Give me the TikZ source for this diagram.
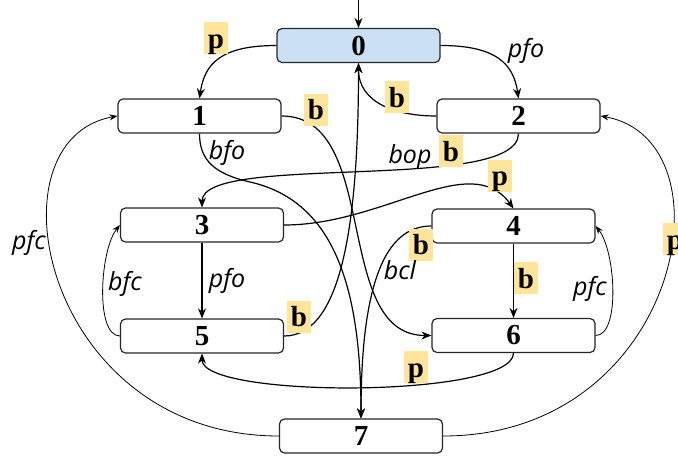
\documentclass[tikz,border=0pt]{standalone}
\usepackage{fontspec}
\setmainfont{Liberation Serif}
\newfontfamily\edgefont{Open Sans}
\usetikzlibrary{arrows.meta}
\definecolor{startfill}{RGB}{204,224,245}
\definecolor{markfill}{RGB}{255,229,153}
\tikzset{
  state/.style={draw=black!85, line width=1.2pt, rounded corners=5pt,
    minimum width=163pt, minimum height=34pt, inner sep=0pt, fill=white,
    font=\fontsize{29}{29}\selectfont\bfseries},
  hlbox/.style={fill=markfill, inner sep=0pt, minimum width=24pt,
    minimum height=32pt, text height=24pt, text depth=4pt,
    font=\fontsize{29}{29}\selectfont\bfseries},
  elab/.style={inner sep=0pt, font=\fontsize{25}{25}\selectfont\edgefont\itshape},
  link/.style={line width=1.2pt, -{Stealth[length=10pt,width=8pt]}},
  thinlink/.style={line width=0.8pt, -{Stealth[length=8pt,width=6pt]}},
}
\begin{document}
\begin{tikzpicture}[x=1pt,y=-1pt]
  \useasboundingbox (0,0) rectangle (678,459);

  % states
  \node[state, fill=startfill] (n0) at (358.5,45.5) {0};
  \node[state] (n1) at (199.5,116) {1};
  \node[state] (n2) at (518.5,116) {2};
  \node[state] (n3) at (202,225) {3};
  \node[state] (n4) at (513.5,226) {4};
  \node[state] (n5) at (202,336) {5};
  \node[state] (n6) at (513.5,335.5) {6};
  \node[state] (n7) at (361,436) {7};
  \coordinate (in0) at (358.5,0);
  \coordinate (bend17) at (250,182);

  % transitions
  \draw[link] (in0) -- (n0.north);
  \draw[link] (n0.west) .. controls +(-55,0) and +(5,-35) .. (n1.north);
  \draw[link] (n0.east) .. controls +(55,0) and +(-5,-35) .. (n2.north);
  \draw[link] (n2.west) .. controls +(-40,0) and +(0,40) .. (n0.south);
  \draw[link] (n1.east) .. controls +(100,0) and +(-100,0) .. (n6.west);
  \draw[link] (n1.south) .. controls +(0,27) and +(-35,-8) .. (bend17)
                         .. controls +(80,18) and +(0,-139) .. (n7.north);
  \draw[link] (n2.south) .. controls +(0,60) and +(0,-55) .. (n3.north);
  \draw[link] (n3.east) .. controls +(100,0) and +(-43,-59) .. (n4.north);
  \draw[link] (n3) -- (n5);
  \draw[thinlink] (n5.west) .. controls +(-25,0) and +(-20,25) .. (n3.west);
  \draw[link] (n5.east) .. controls +(60,0) and +(0,150) .. (n0.south);
  \draw[link] (n4) -- (n6);
  \draw[thinlink] (n6.east) .. controls +(25,0) and +(20,25) .. (n4.east);
  \draw[link] (n4.west) .. controls +(-40,0) and +(0,-150) .. (n7.north);
  \draw[link] (n6.south) .. controls +(0,45) and +(0,45) .. (n5.south);
  \draw[thinlink] (n7.west) .. controls +(-235,0) and +(-133,24) .. (n1.west);
  \draw[thinlink] (n7.east) .. controls +(238,0) and +(135,24) .. (n2.east);

  % highlighted labels
  \node[hlbox] (h01) at (216,38) {p};
  \node[hlbox] (h20) at (397,97) {b};
  \node[hlbox] (h16) at (316,109.5) {b};
  \node[hlbox] (h23) at (451,151) {b};
  \node[hlbox] (h34) at (500,175.5) {p};
  \node[hlbox] (h47) at (421,244.5) {b};
  \node[hlbox] (h46) at (526,278) {b};
  \node[hlbox] (h50) at (299,316.5) {b};
  \node[hlbox] (h65) at (416,367) {p};
  \node[hlbox] (h72) at (675,239) {p};

  % plain labels
  \node[elab] (l02) at (526,51) {pfo};
  \node[elab] (l17) at (227,153) {bfo};
  \node[elab] (l23) at (410,157) {bop};
  \node[elab] (l35) at (227,281) {pfo};
  \node[elab] (l53) at (125,284) {bfc};
  \node[elab] (l47) at (400,270) {bcl};
  \node[elab] (l64) at (590,289) {pfc};
  \node[elab] (l71) at (29,243) {pfc};
\end{tikzpicture}
\end{document}
